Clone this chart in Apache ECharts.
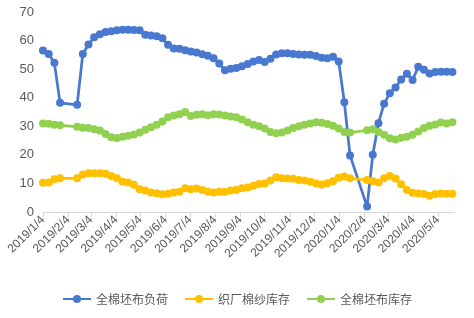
<!DOCTYPE html>
<html>
<head>
<meta charset="utf-8">
<script src="https://cdn.jsdelivr.net/npm/echarts@6/dist/echarts.min.js"></script>
<style>html,body{margin:0;padding:0;background:#fff;}#c{width:474px;height:318px;}</style>
</head>
<body>
<div id="c"></div>
<script>
// Weekly dates (Fridays); CNY weeks missing in source
var dates = [
 '2019-01-04','2019-01-11','2019-01-18','2019-01-25',
 '2019-02-15','2019-02-22','2019-03-01','2019-03-08','2019-03-15','2019-03-22','2019-03-29',
 '2019-04-05','2019-04-12','2019-04-19','2019-04-26','2019-05-03','2019-05-10','2019-05-17','2019-05-24','2019-05-31',
 '2019-06-07','2019-06-14','2019-06-21','2019-06-28','2019-07-05','2019-07-12','2019-07-19','2019-07-26',
 '2019-08-02','2019-08-09','2019-08-16','2019-08-23','2019-08-30','2019-09-06','2019-09-13','2019-09-20','2019-09-27',
 '2019-10-04','2019-10-11','2019-10-18','2019-10-25','2019-11-01','2019-11-08','2019-11-15','2019-11-22','2019-11-29',
 '2019-12-06','2019-12-13','2019-12-20','2019-12-27','2020-01-03','2020-01-10','2020-01-17',
 '2020-02-07','2020-02-14','2020-02-21','2020-02-28','2020-03-06','2020-03-13','2020-03-20','2020-03-27',
 '2020-04-03','2020-04-10','2020-04-17','2020-04-24','2020-05-01','2020-05-08','2020-05-15','2020-05-22'
];
var seriesNames = ['全棉坯布负荷','织厂棉纱库存','全棉坯布库存'];
var fabricLoad = [
 56.5,55.3,52.2,38.2,
 37.5,55.3,58.6,61.2,62.2,63.0,63.3,
 63.6,63.8,63.8,63.7,63.6,62.0,61.8,61.5,60.8,
 58.5,57.2,57.1,56.6,56.2,55.8,55.2,54.7,
 53.8,52.0,49.6,50.1,50.4,51.0,51.8,52.7,53.2,
 52.5,53.6,55.1,55.6,55.6,55.3,55.1,55.0,55.0,
 54.6,54.0,53.8,54.3,52.7,38.4,19.8,
 1.9,20.0,31.1,37.9,41.6,43.6,46.4,48.4,
 46.2,50.8,49.8,48.5,49.0,49.1,49.1,49.0
];
var yarnStock = [
 10.2,10.3,11.5,11.8,
 11.8,13.1,13.6,13.6,13.6,13.4,12.6,
 11.8,10.6,10.3,9.5,8.0,7.5,6.8,6.6,6.2,
 6.4,6.8,7.1,8.3,8.0,8.2,7.7,7.1,
 6.8,7.1,7.1,7.5,7.7,8.3,8.6,9.2,9.8,
 10.0,11.0,12.2,11.8,11.7,11.6,11.2,11.0,10.6,
 10.0,9.6,10.1,10.8,12.0,12.4,11.8,
 11.2,10.8,10.3,11.8,12.6,11.7,9.7,7.7,
 6.7,6.5,6.3,5.7,6.3,6.5,6.4,6.4
];
var fabricStock = [
 31.0,30.9,30.5,30.4,
 29.8,29.5,29.4,29.0,28.5,27.3,26.2,
 25.9,26.3,26.7,27.1,27.8,28.8,29.7,30.5,31.7,
 33.2,33.8,34.2,35.0,33.6,34.0,34.2,33.9,
 34.2,34.1,33.8,33.4,33.2,32.4,31.4,30.5,30.0,
 29.2,28.0,27.6,27.8,28.5,29.4,30.0,30.5,31.0,
 31.4,31.2,30.8,30.2,29.2,28.0,27.8,
 28.6,29.0,28.0,27.0,25.8,25.4,26.0,26.3,
 27.0,28.2,29.4,30.2,30.6,31.3,31.0,31.4
];
var tickLabels = ['2019/1/4','2019/2/4','2019/3/4','2019/4/4','2019/5/4','2019/6/4','2019/7/4','2019/8/4','2019/9/4',
 '2019/10/4','2019/11/4','2019/12/4','2020/1/4','2020/2/4','2020/3/4','2020/4/4','2020/5/4'];
var yTicks = [0,10,20,30,40,50,60,70];

var DAY = 86400000;
function toTs(s){ var p = s.split(/[-\/]/).map(Number); return Date.UTC(p[0], p[1]-1, p[2]); }
var t0 = toTs('2019-01-04');
function toDay(s){ return Math.round((toTs(s) - t0) / DAY); }
function pairs(vals){ return dates.map(function(d,i){ return [toDay(d), vals[i]]; }); }
var tickDays = tickLabels.map(toDay);
var labelByDay = {};
tickLabels.forEach(function(l,i){ labelByDay[tickDays[i]] = l; });

var colors = ['#4878D0','#FFC000','#92D050'];
var fontFam = '"Liberation Sans","Noto Sans CJK SC",sans-serif';
var chart = echarts.init(document.getElementById('c'));
function mk(name, vals, color){
  return {
    name: name, type: 'line', data: pairs(vals),
    symbol: 'circle', symbolSize: 8, showSymbol: true,
    lineStyle: {width: 2.75, color: color},
    itemStyle: {color: color},
    animation: false
  };
}
chart.setOption({
  animation: false,
  color: colors,
  textStyle: {fontFamily: fontFam},
  grid: {left: 43, right: 20, top: 12, bottom: 106, containLabel: false},
  legend: {
    bottom: 8, left: 'center', itemWidth: 28, itemHeight: 10, itemGap: 16,
    textStyle: {color: '#595959', fontSize: 12, fontFamily: '"Noto Sans CJK SC",sans-serif'},
    data: seriesNames
  },
  xAxis: {
    type: 'value',
    min: 0, max: toDay('2020-05-24'),
    axisLine: {show: true, lineStyle: {color: '#D9D9D9', width: 1}},
    axisTick: {show: true, length: 5, lineStyle: {color: '#D9D9D9'}, customValues: tickDays},
    axisLabel: {customValues: tickDays, formatter: function(v){ return labelByDay[v] || ''; },
      rotate: 45, color: '#595959', fontSize: 12, margin: 6, hideOverlap: false},
    splitLine: {show: false}
  },
  yAxis: {
    type: 'value', min: yTicks[0], max: yTicks[yTicks.length-1], interval: 10,
    axisLine: {show: false}, axisTick: {show: false},
    splitLine: {show: false},
    axisLabel: {color: '#595959', fontSize: 13, margin: 9}
  },
  series: [
    mk(seriesNames[0], fabricLoad, colors[0]),
    mk(seriesNames[1], yarnStock, colors[1]),
    mk(seriesNames[2], fabricStock, colors[2])
  ]
});
</script>
</body>
</html>
